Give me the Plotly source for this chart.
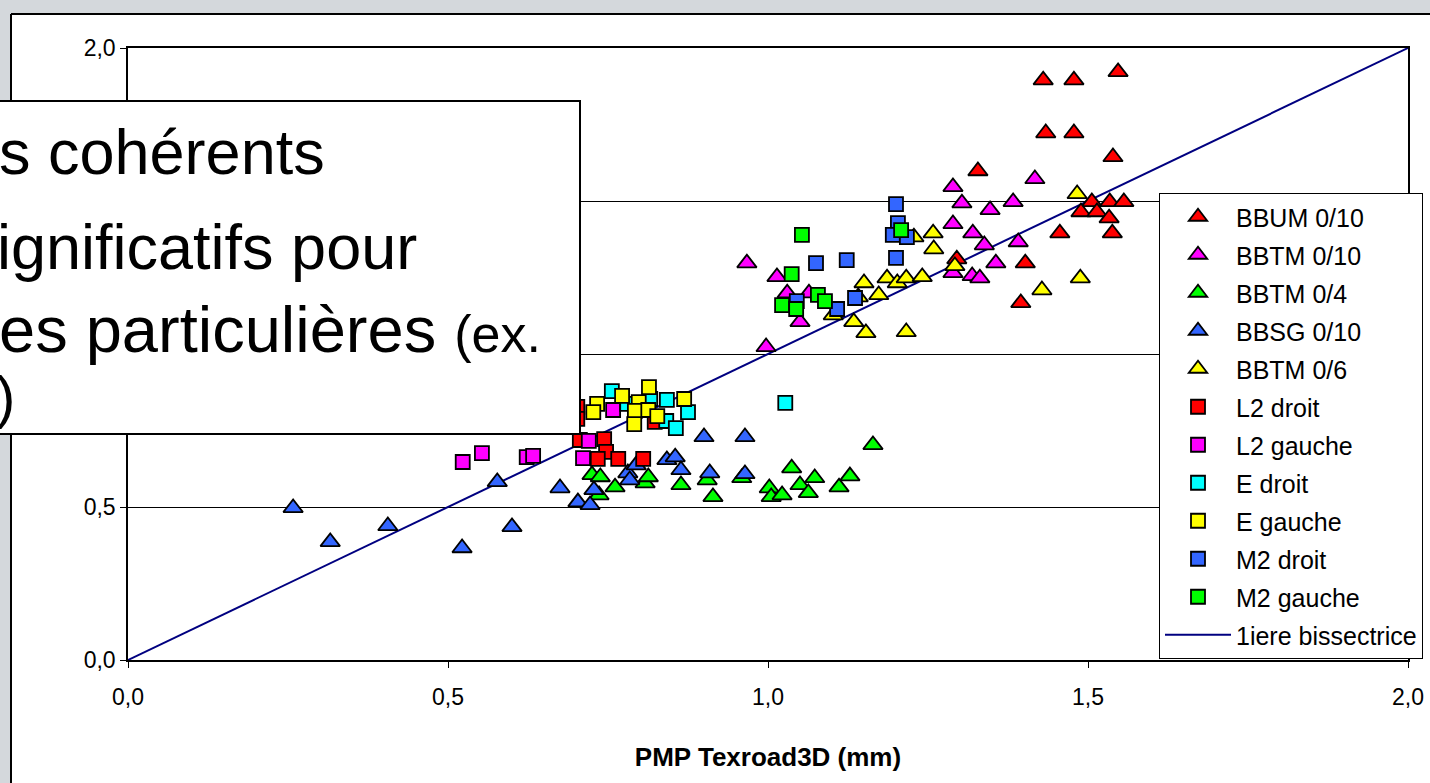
import plotly.graph_objects as go

# ---------------- data (mm) ----------------
bbum010_x = [1.430, 1.478, 1.547, 1.434, 1.478, 1.539, 1.328, 1.506, 1.534, 1.556, 1.489, 1.514, 1.533, 1.538, 1.456, 1.295, 1.402, 1.395]
bbum010_y = [1.895, 1.895, 1.922, 1.722, 1.722, 1.644, 1.598, 1.497, 1.497, 1.497, 1.464, 1.464, 1.444, 1.395, 1.395, 1.310, 1.297, 1.167]

bbtm010_x = [0.967, 1.014, 1.030, 1.064, 1.050, 0.997, 1.289, 1.303, 1.347, 1.383, 1.417, 1.289, 1.320, 1.338, 1.391, 1.289, 1.319, 1.331, 1.356]
bbtm010_y = [1.297, 1.252, 1.199, 1.199, 1.105, 1.023, 1.546, 1.493, 1.471, 1.497, 1.572, 1.425, 1.395, 1.356, 1.366, 1.265, 1.255, 1.248, 1.297]

bbtm04_x = [0.725, 0.738, 0.736, 0.761, 0.808, 0.813, 0.864, 0.905, 0.914, 0.959, 1.002, 1.005, 1.022, 1.037, 1.050, 1.063, 1.073, 1.111, 1.128, 1.164]
bbtm04_y = [0.605, 0.598, 0.539, 0.565, 0.578, 0.598, 0.572, 0.588, 0.533, 0.595, 0.562, 0.533, 0.539, 0.627, 0.572, 0.546, 0.595, 0.565, 0.601, 0.703]

bbsg010_x = [0.258, 0.316, 0.406, 0.522, 0.577, 0.600, 0.675, 0.703, 0.722, 0.728, 0.781, 0.784, 0.794, 0.842, 0.855, 0.864, 0.900, 0.964, 0.909, 0.964]
bbsg010_y = [0.497, 0.386, 0.438, 0.366, 0.582, 0.435, 0.562, 0.516, 0.507, 0.556, 0.611, 0.588, 0.637, 0.654, 0.663, 0.621, 0.729, 0.729, 0.611, 0.608]

bbtm06_x = [1.483, 1.258, 1.259, 1.228, 1.292, 1.488, 1.428, 1.150, 1.173, 1.186, 1.202, 1.216, 1.241, 1.134, 1.153, 1.216, 1.102, 1.141]
bbtm06_y = [1.523, 1.395, 1.343, 1.382, 1.288, 1.248, 1.209, 1.232, 1.193, 1.248, 1.232, 1.248, 1.252, 1.105, 1.069, 1.072, 1.127, 1.186]

l2d_x = [0.702, 0.702, 0.706, 0.744, 0.747, 0.734, 0.766, 0.805, 0.823]
l2d_y = [0.827, 0.788, 0.719, 0.722, 0.680, 0.657, 0.657, 0.657, 0.778]

l2g_x = [0.523, 0.553, 0.623, 0.633, 0.720, 0.711, 0.758]
l2g_y = [0.647, 0.676, 0.663, 0.667, 0.716, 0.660, 0.817]

ed_x = [0.756, 0.780, 0.816, 0.842, 0.875, 0.841, 0.856, 1.027]
ed_y = [0.879, 0.837, 0.853, 0.850, 0.810, 0.781, 0.758, 0.840]

eg_x = [0.733, 0.727, 0.772, 0.814, 0.798, 0.792, 0.813, 0.827, 0.791, 0.869]
eg_y = [0.837, 0.810, 0.863, 0.892, 0.843, 0.814, 0.817, 0.797, 0.771, 0.853]

m2d_x = [1.200, 1.203, 1.195, 1.217, 1.200, 1.075, 1.123, 1.045, 1.108, 1.136]
m2d_y = [1.490, 1.428, 1.389, 1.382, 1.314, 1.297, 1.307, 1.173, 1.147, 1.183]

m2g_x = [1.053, 1.037, 1.022, 1.044, 1.078, 1.089, 1.208]
m2g_y = [1.389, 1.261, 1.160, 1.147, 1.193, 1.173, 1.405]

bis_x = [0.0, 2.0]
bis_y = [0.0, 2.0]

series = [
    ("BBUM 0/10", bbum010_x, bbum010_y, "triangle-up", "#FF0000"),
    ("BBTM 0/10", bbtm010_x, bbtm010_y, "triangle-up", "#FF00FF"),
    ("BBTM 0/4", bbtm04_x, bbtm04_y, "triangle-up", "#00FF00"),
    ("BBSG 0/10", bbsg010_x, bbsg010_y, "triangle-up", "#3366FF"),
    ("BBTM 0/6", bbtm06_x, bbtm06_y, "triangle-up", "#FFFF00"),
    ("L2 droit", l2d_x, l2d_y, "square", "#FF0000"),
    ("L2 gauche", l2g_x, l2g_y, "square", "#FF00FF"),
    ("E droit", ed_x, ed_y, "square", "#00FFFF"),
    ("E gauche", eg_x, eg_y, "square", "#FFFF00"),
    ("M2 droit", m2d_x, m2d_y, "square", "#3366FF"),
    ("M2 gauche", m2g_x, m2g_y, "square", "#00FF00"),
]

FONT = "Liberation Sans, Arial, sans-serif"
W, H = 1430, 783
L, R, T, B = 128, 22, 48, 123
PW, PH = W - L - R, H - T - B


def px(x):
    return (x - L) / PW


def py(y):
    return (H - B - y) / PH


fig = go.Figure()

fig.add_trace(go.Scatter(
    x=bis_x, y=bis_y, mode="lines", name="1iere bissectrice",
    line=dict(color="#000080", width=2), legendrank=2000, legendgroup="bis"))

for i, (name, xs, ys, sym, col) in enumerate(series):
    fig.add_trace(go.Scatter(
        x=xs, y=ys, mode="markers", name=name, legendrank=100 + i, legendgroup=name,
        marker=dict(symbol=sym, size=17 if sym == "triangle-up" else 14, color=col,
                    line=dict(color="#000000", width=1.8))))

shapes = [
    # gray frame strips
    dict(type="rect", xref="paper", yref="paper", x0=px(-5), x1=px(W + 5), y0=py(-5), y1=py(14),
         fillcolor="#D4D8DC", line=dict(width=0), layer="above"),
    dict(type="rect", xref="paper", yref="paper", x0=px(-5), x1=px(11), y0=py(H + 5), y1=py(14),
         fillcolor="#D4D8DC", line=dict(width=0), layer="above"),
    dict(type="line", xref="paper", yref="paper", x0=px(11), x1=px(W + 5), y0=py(14), y1=py(14),
         line=dict(color="#000000", width=2), layer="above"),
    dict(type="line", xref="paper", yref="paper", x0=px(11), x1=px(11), y0=py(14), y1=py(H + 5),
         line=dict(color="#000000", width=2), layer="above"),
    # text box overlay
    dict(type="rect", xref="paper", yref="paper", x0=px(-20), x1=px(580), y0=py(434), y1=py(101),
         fillcolor="#FFFFFF", line=dict(color="#000000", width=2), layer="above"),
]

annotations = [
    dict(text="s cohérents", x=px(327), y=py(152), xanchor="right", yanchor="middle", size=63),
    dict(text="ignificatifs pour", x=px(419), y=py(247), xanchor="right", yanchor="middle", size=63),
    dict(text="es particulières <span style='font-size:52px'>(ex.</span>", x=px(543), y=py(329),
         xanchor="right", yanchor="middle", size=65),
    dict(text=")", x=px(17), y=py(396), xanchor="right", yanchor="middle", size=58),
]
for a in annotations:
    sz = a.pop("size")
    a.update(xref="paper", yref="paper", showarrow=False,
             font=dict(family=FONT, size=sz, color="#000000"))

fig.update_layout(
    width=W, height=H,
    margin=dict(l=L, r=R, t=T, b=B, pad=0, autoexpand=False),
    paper_bgcolor="#FFFFFF", plot_bgcolor="#FFFFFF",
    separators=", ",
    showlegend=True,
    legend=dict(x=px(1159), y=py(193), xanchor="left", yanchor="top",
                bgcolor="#FFFFFF", bordercolor="#000000", borderwidth=1,
                font=dict(family=FONT, size=25, color="#000000"),
                tracegroupgap=2.5, itemwidth=66, traceorder="grouped"),
    shapes=shapes,
    annotations=annotations,
    font=dict(family=FONT, color="#000000"),
)

fig.update_xaxes(range=[0, 2], dtick=0.5, tick0=0, tickformat=".1f", automargin=False,
                 showgrid=False, zeroline=False,
                 showline=True, linecolor="#000000", linewidth=1.5, mirror=True,
                 ticks="outside", ticklen=6, tickcolor="#000000", tickwidth=1,
                 ticklabelstandoff=10,
                 tickfont=dict(family=FONT, size=23, color="#000000"),
                 title=dict(text="<b>PMP Texroad3D (mm)</b>", standoff=38,
                            font=dict(family=FONT, size=26, color="#000000")))
fig.update_yaxes(range=[0, 2], dtick=0.5, tick0=0, tickformat=".1f", automargin=False,
                 showgrid=True, gridcolor="#000000", gridwidth=1, zeroline=False,
                 showline=True, linecolor="#000000", linewidth=1.5, mirror=True,
                 ticks="outside", ticklen=6, tickcolor="#000000", tickwidth=1,
                 tickfont=dict(family=FONT, size=23, color="#000000"))

fig.write_html("out.html", config={"displayModeBar": False},
               post_script="document.body.style.margin='0px';document.body.style.overflow='hidden';")
